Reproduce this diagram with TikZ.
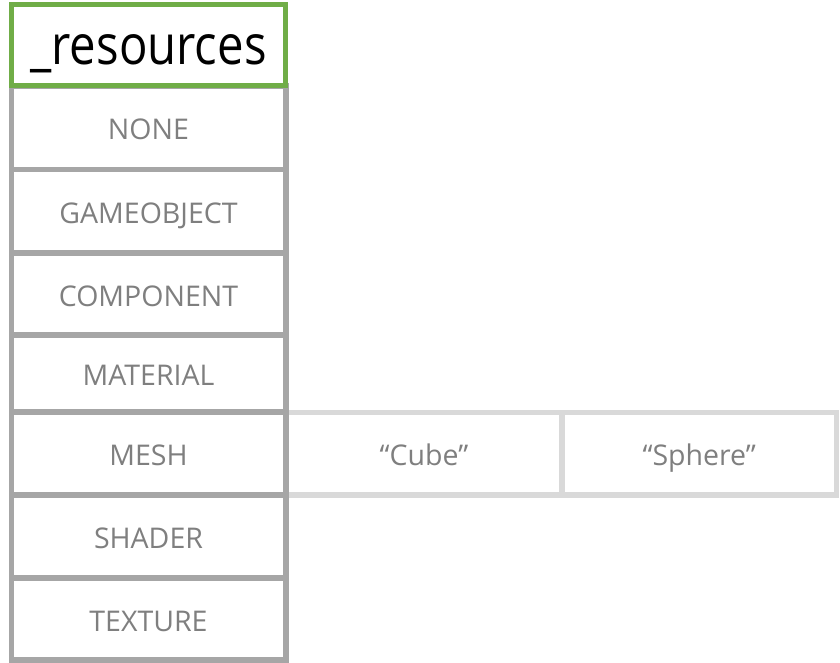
\documentclass[tikz,border=0pt]{standalone}
\usepackage{fontspec}
\setmainfont{Open Sans}
\newfontfamily\titlefont[FakeStretch=0.86]{Open Sans}
\definecolor{rowgray}{HTML}{A6A6A6}
\definecolor{lightgray2}{HTML}{D9D9D9}
\definecolor{txtgray}{HTML}{7F7F7F}
\definecolor{greenline}{HTML}{70AD47}
\begin{document}
\begin{tikzpicture}[x=1pt,y=-1pt,
  rowbox/.style={draw=rowgray,line width=5.5pt,fill=white,rectangle,inner sep=0pt,
    minimum width=274.5pt,text=txtgray,font=\fontsize{28.5}{31}\selectfont,
    text height=24pt,text depth=0pt},
  valbox/.style={draw=lightgray2,line width=5.5pt,fill=white,rectangle,inner sep=0pt,
    minimum height=82.5pt,text=txtgray,font=\fontsize{28.5}{31}\selectfont,
    text height=24pt,text depth=0pt},
  titlebox/.style={draw=greenline,line width=5pt,fill=white,rectangle,inner sep=0pt,
    minimum width=274pt,minimum height=81.5pt,text=black,
    font=\titlefont\fontsize{55}{60}\selectfont,text height=38pt,text depth=0pt}]
\useasboundingbox (0,0) rectangle (840,663);
% value boxes (drawn first, the column covers their left edge)
\node[valbox,minimum width=276pt] (cube) at (424,453.5) {“Cube”};
\node[valbox,minimum width=274.5pt] (sphere) at (699.25,453.5) {“Sphere”};
% column rows
\node[rowbox,minimum height=83.5pt] (none) at (148.5,127.75) {NONE};
\node[rowbox,minimum height=83.5pt] (gameobject) at (148.5,211.25) {GAMEOBJECT};
\node[rowbox,minimum height=82pt] (component) at (148.5,294) {COMPONENT};
\node[rowbox,minimum height=77pt] (material) at (148.5,373.5) {MATERIAL};
\node[rowbox,minimum height=83pt] (mesh) at (148.5,453.5) {MESH};
\node[rowbox,minimum height=83pt] (shader) at (148.5,536.5) {SHADER};
\node[rowbox,minimum height=82pt] (texture) at (148.5,619) {TEXTURE};
% title
\node[titlebox] (title) at (148.5,45.25) {\_resources};
\end{tikzpicture}
\end{document}
